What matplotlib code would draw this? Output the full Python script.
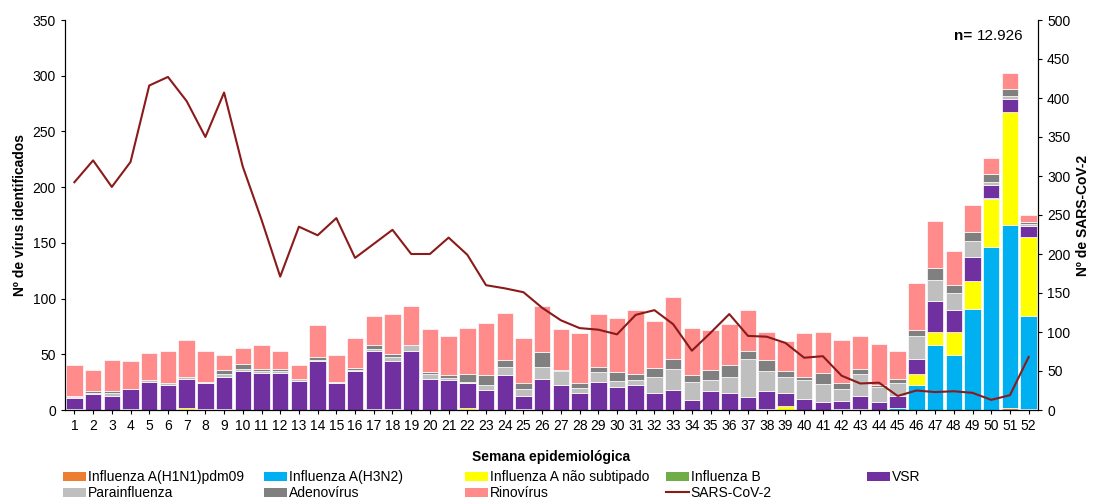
import numpy as np
import matplotlib
matplotlib.use("Agg")
import matplotlib.pyplot as plt
from matplotlib.patches import Patch
from matplotlib.lines import Line2D

plt.rcParams["font.family"] = ["Liberation Sans", "DejaVu Sans"]

weeks = np.arange(1, 53)

h1n1 = [0]*16 + [1] + [0]*33 + [2, 1]
h3n2 = [0]*8 + [1] + [0]*15 + [1] + [0]*16 + [1, 0, 0, 2, 22, 58, 49, 91, 146, 164, 83]
flu_ns = [0, 0, 0, 1, 0, 0, 2, 1, 0, 0, 0, 0, 0, 0, 0, 0, 0, 0, 0, 0,
          0, 2, 0, 0, 0, 0, 0, 0, 0, 0, 0, 0, 0, 0, 0, 0, 0, 1, 4, 0,
          0, 0, 0, 0, 0, 10, 12, 21, 25, 43, 101, 71]
flu_b = [1] + [0]*16 + [1] + [0]*24 + [1] + [0]*6 + [1, 0, 0]
vsr = [10, 14, 13, 18, 25, 22, 26, 23, 29, 35, 33, 33, 26, 44, 24, 35, 52, 43, 53, 28,
       27, 22, 18, 31, 12, 28, 22, 15, 25, 21, 22, 15, 18, 9, 17, 15, 12, 16, 11, 10,
       7, 7, 12, 7, 11, 14, 28, 20, 21, 12, 12, 10]
parainf = [1, 1, 2, 0, 2, 2, 2, 1, 2, 2, 2, 2, 2, 1, 1, 1, 2, 4, 5, 4,
           2, 1, 4, 8, 6, 11, 13, 5, 9, 5, 5, 15, 19, 16, 10, 15, 34, 18, 15, 17,
           16, 11, 19, 14, 11, 20, 19, 15, 15, 3, 3, 2]
adeno = [1, 2, 2, 0, 0, 0, 0, 0, 4, 4, 2, 2, 0, 3, 0, 2, 3, 2, 0, 2,
         2, 7, 9, 6, 5, 13, 1, 4, 5, 8, 5, 8, 9, 6, 9, 10, 7, 10, 5, 3,
         10, 5, 5, 1, 4, 6, 10, 7, 8, 7, 6, 2]
rino = [27, 19, 28, 25, 24, 29, 33, 28, 13, 15, 21, 16, 12, 28, 24, 27, 26, 36, 35, 39,
        35, 42, 47, 42, 41, 41, 37, 45, 47, 49, 58, 42, 55, 43, 36, 37, 37, 25, 27, 39,
        37, 39, 29, 37, 25, 42, 43, 31, 24, 14, 14, 6]
sars = [292, 320, 286, 318, 416, 427, 396, 350, 407, 312, 244, 171, 235, 224, 246, 195,
        213, 231, 200, 200, 221, 199, 160, 156, 151, 131, 115, 105, 103, 97, 122, 128,
        110, 76, 99, 123, 95, 94, 86, 67, 69, 44, 34, 35, 18, 25, 23, 24, 22, 13, 19, 68]

series = [
    ("Influenza A(H1N1)pdm09", h1n1, "#ED7D31"),
    ("Influenza A(H3N2)", h3n2, "#00B0F0"),
    ("Influenza A não subtipado", flu_ns, "#FFFF00"),
    ("Influenza B", flu_b, "#70AD47"),
    ("VSR", vsr, "#7030A0"),
    ("Parainfluenza", parainf, "#BFBFBF"),
    ("Adenovírus", adeno, "#808080"),
    ("Rinovírus", rino, "#FF8B8B"),
]
line_color = "#8B1A1A"

fig = plt.figure(figsize=(10.93, 5.0), dpi=100)
ax = fig.add_axes([0.0595, 0.18, 0.8902, 0.78])

bottom = np.zeros(len(weeks))
for name, vals, color in series:
    vals = np.array(vals, dtype=float)
    ax.bar(weeks, vals, bottom=bottom, width=0.88, color=color,
           edgecolor="white", linewidth=0.5)
    bottom += vals

ax.set_xlim(0.5, 52.5)
ax.set_ylim(0, 350)
ax.set_yticks(range(0, 351, 50))
ax.set_xticks(weeks)
ax.tick_params(axis="both", labelsize=10, length=3)
ax.spines["top"].set_visible(False)
ax.set_ylabel("Nº de vírus identificados", fontsize=10, fontweight="bold")
ax.set_xlabel("Semana epidemiológica", fontsize=10, fontweight="bold", labelpad=12)

ax2 = ax.twinx()
ax2.plot(weeks, sars, color=line_color, linewidth=1.5)
ax2.set_ylim(0, 500)
ax2.set_yticks(range(0, 501, 50))
ax2.tick_params(axis="y", labelsize=10, length=3)
ax2.spines["top"].set_visible(False)
ax2.set_ylabel("Nº de SARS-CoV-2", fontsize=10, fontweight="bold")

# "n= 12.926" with the n= part in bold
n_txt = ax.text(0.985, 0.96, "12.926", transform=ax.transAxes,
                ha="right", va="center", fontsize=11)
ax.annotate("n= ", xy=(0, 0.5), xycoords=n_txt, ha="right", va="center",
            fontsize=11, fontweight="bold")

# legend, laid out in evenly spaced columns
handles = [Patch(facecolor=c, edgecolor="none") for _, _, c in series]
handles.append(Line2D([], [], color=line_color, linewidth=1.5))
labels = [s[0] for s in series] + ["SARS-CoV-2"]
columns = [[0, 5], [1, 6], [2, 7], [3, 8], [4]]
for i, col in enumerate(columns):
    x = (62 + 201 * i) / 1093
    fig.legend([handles[k] for k in col], [labels[k] for k in col],
               loc="upper left", bbox_to_anchor=(x, 0.062), frameon=False,
               fontsize=10, handlelength=1.6, handleheight=0.6,
               handletextpad=0.15, labelspacing=0.12, borderpad=0.1,
               borderaxespad=0)

fig.savefig("out.png", dpi=100)
